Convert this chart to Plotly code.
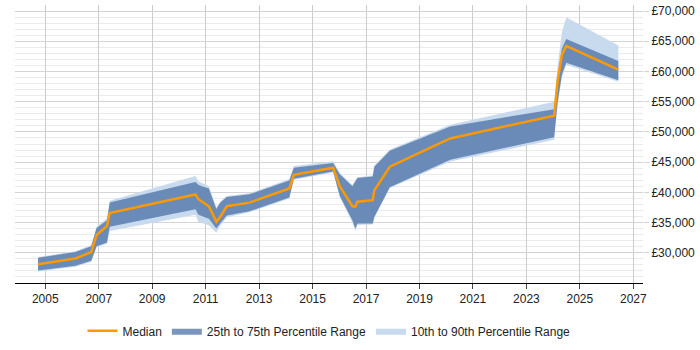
import plotly.graph_objects as go

years = [2004.73, 2006.13, 2006.72, 2006.92, 2007.31, 2007.41, 2010.62, 2010.73,
         2011.12, 2011.40, 2011.55, 2011.79, 2012.64, 2014.13, 2014.30, 2015.77,
         2016.02, 2016.49, 2016.60, 2016.68, 2017.25, 2017.31, 2017.89, 2020.15,
         2024.04, 2024.17, 2024.33, 2024.49, 2026.44]

median = [28100, 29050, 30130, 32950, 34450, 36560, 39650, 38870,
          37700, 35160, 35970, 37700, 38300, 40650, 42900, 44080,
          41000, 37700, 37630, 38440, 38710, 40320, 44240, 48920,
          52690, 58500, 62790, 64240, 60300]

p25 = [27050, 27850, 28700, 31080, 31700, 34300, 37200, 36290,
       35650, 34030, 34900, 36180, 36880, 39150, 42260, 43450,
       39410, 35370, 34030, 34840, 34840, 35920, 40860, 45400,
       49100, 55000, 59500, 61450, 58550]

p75 = [29190, 30110, 31100, 34100, 35400, 38340, 41730, 41200,
       40650, 37260, 38300, 39250, 39680, 41940, 44080, 44850,
       43010, 41020, 41800, 42370, 42640, 44240, 46900, 50900,
       53760, 59000, 63800, 65380, 61720]

p10 = [26900, 27700, 28500, 30900, 31500, 33600, 36300, 35100,
       34560, 33330, 34500, 35900, 36700, 39000, 42100, 43300,
       39200, 35000, 33600, 34600, 34700, 35800, 40700, 45100,
       48710, 54500, 59000, 61130, 58300]

p90 = [29300, 30250, 31300, 34300, 35700, 38600, 42700, 41830,
       41000, 37500, 38500, 39400, 39850, 42200, 44350, 45160,
       43200, 41200, 42000, 42500, 42800, 44400, 47100, 51200,
       55000, 61000, 66500, 68980, 64300]

y_ticks = [30000, 35000, 40000, 45000, 50000, 55000, 60000, 65000, 70000]
y_labels = ["£{:,}".format(v) for v in y_ticks]
x_ticks = list(range(2005, 2028, 2))

fig = go.Figure()
fig.add_trace(go.Scatter(x=years, y=p10, mode="lines", line=dict(width=0, color="rgba(0,0,0,0)"),
                         showlegend=False, hoverinfo="skip"))
fig.add_trace(go.Scatter(x=years, y=p90, mode="lines", line=dict(width=0, color="rgba(0,0,0,0)"),
                         fill="tonexty", fillcolor="rgb(200,218,238)",
                         name="10th to 90th Percentile Range", legendrank=3))
fig.add_trace(go.Scatter(x=years, y=p25, mode="lines", line=dict(width=0, color="rgba(0,0,0,0)"),
                         showlegend=False, hoverinfo="skip"))
fig.add_trace(go.Scatter(x=years, y=p75, mode="lines", line=dict(width=0, color="rgba(0,0,0,0)"),
                         fill="tonexty", fillcolor="rgba(65,105,160,0.7)",
                         name="25th to 75th Percentile Range", legendrank=2))
fig.add_trace(go.Scatter(x=years, y=median, mode="lines", line=dict(width=2.5, color="#ff9900"),
                         name="Median", legendrank=1))

fig.update_layout(
    width=700, height=350,
    margin=dict(l=15, r=57, t=5, b=58),
    paper_bgcolor="white", plot_bgcolor="white",
    font=dict(family="Liberation Sans, Arial, sans-serif", size=12, color="#222"),
    legend=dict(orientation="h", x=0.5, xanchor="center", y=-0.12, yanchor="top",
                font=dict(size=12), traceorder="normal", itemwidth=30),
    showlegend=True,
)
fig.update_xaxes(range=[2003.867, 2027.363], tickvals=x_ticks, ticktext=[str(v) for v in x_ticks],
                 showgrid=True, gridcolor="#cccccc", gridwidth=1,
                 showline=True, linecolor="#000", linewidth=1,
                 ticks="outside", ticklen=5, tickcolor="#444", zeroline=False)
fig.update_yaxes(range=[25000, 71000], side="right", tickvals=y_ticks, ticktext=y_labels,
                 showgrid=True, gridcolor="#d4d4d4", gridwidth=1,
                 minor=dict(dtick=1000, tick0=0, showgrid=True, gridcolor="#ebebeb", gridwidth=1),
                 ticks="outside", ticklen=5, tickcolor="#d4d4d4",
                 showline=False, zeroline=False)

fig.write_html("out.html")
